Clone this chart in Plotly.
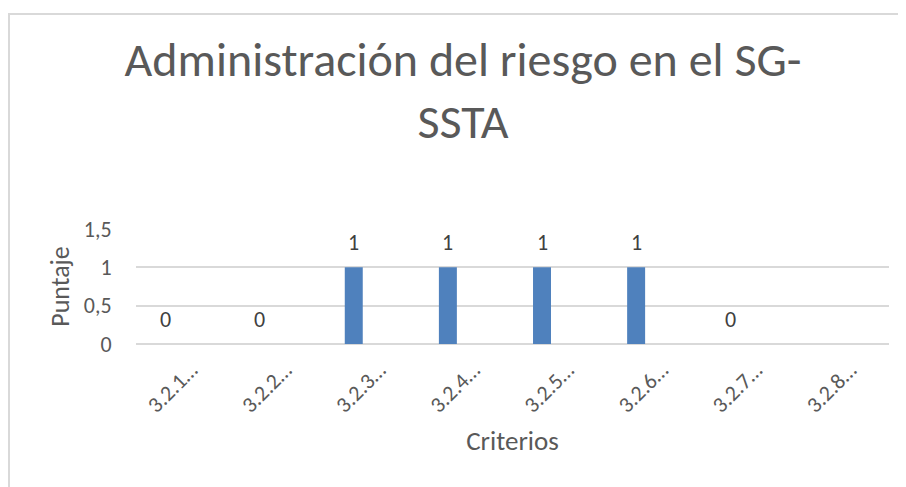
import plotly.graph_objects as go

categories = ["3.2.1…", "3.2.2…", "3.2.3…", "3.2.4…", "3.2.5…", "3.2.6…", "3.2.7…", "3.2.8…"]
puntaje = [0, 0, 1, 1, 1, 1, 0, None]
y_ticks = [0, 0.5, 1, 1.5]

FONT = "Carlito, Calibri, 'Liberation Sans Narrow', 'Open Sans', sans-serif"
GREY = "#595959"
BAR_OFFSET = -0.282
BAR_WIDTH = 0.191

positions = list(range(len(categories)))

fig = go.Figure()
fig.add_trace(go.Bar(
    x=positions,
    y=puntaje,
    offset=BAR_OFFSET,
    width=BAR_WIDTH,
    marker=dict(color="#4f81bd", line=dict(width=0)),
    hoverinfo="y",
))

annotations = []
for xi, v in zip(positions, puntaje):
    if v is None:
        continue
    annotations.append(dict(
        x=xi + BAR_OFFSET + BAR_WIDTH / 2, y=v, xref="x", yref="y",
        text=f"{v:g}", showarrow=False, yshift=25, yanchor="middle",
        font=dict(family=FONT, size=22, color="#404040"),
    ))

# page body has an 8px margin, so figure coords = screen coords - 8
L, R, T, B = 128, 25, 221, 151
PW = 906 - L - R
PH = 487 - T - B

fig.update_layout(
    width=906, height=487,
    margin=dict(l=L, r=R, t=T, b=B),
    paper_bgcolor="white", plot_bgcolor="white",
    separators=",.",
    showlegend=False,
    font=dict(family=FONT, color=GREY, size=22),
    title=dict(
        text="Administración del riesgo en el SG-<br>SSTA",
        x=455 / 906, xref="container", xanchor="center",
        y=1 - 68 / 487, yref="container", yanchor="top",
        font=dict(family=FONT, size=48, color=GREY),
    ),
    xaxis=dict(
        range=[-0.5, len(categories) - 0.5],
        tickmode="array", tickvals=positions, ticktext=categories,
        tickangle=-45, showgrid=False, zeroline=False, showline=False,
        ticks="", ticklabelshift=8, ticklabelstandoff=8,
        tickfont=dict(family=FONT, size=22, color=GREY),
        title=dict(text="Criterios", font=dict(family=FONT, size=27, color=GREY), standoff=13),
        fixedrange=True,
    ),
    yaxis=dict(
        range=[0, 1.5], tickmode="array", tickvals=y_ticks,
        showgrid=True, gridcolor="#d9d9d9", gridwidth=2,
        zeroline=True, zerolinecolor="#d9d9d9", zerolinewidth=2,
        showline=False, ticks="outside", ticklen=19, tickcolor="rgba(0,0,0,0)",
        tickfont=dict(family=FONT, size=22, color=GREY),
        title=dict(text="Puntaje", font=dict(family=FONT, size=26, color=GREY), standoff=6),
        fixedrange=True,
    ),
    annotations=annotations,
    shapes=[dict(
        type="rect", xref="paper", yref="paper",
        x0=(1 - L) / PW, x1=(960 - L) / PW,
        y0=(487 - B - 560) / PH, y1=(487 - B - 6) / PH,
        line=dict(color="#d9d9d9", width=2), fillcolor="rgba(0,0,0,0)", layer="below",
    )],
)

fig.write_html("out.html")
